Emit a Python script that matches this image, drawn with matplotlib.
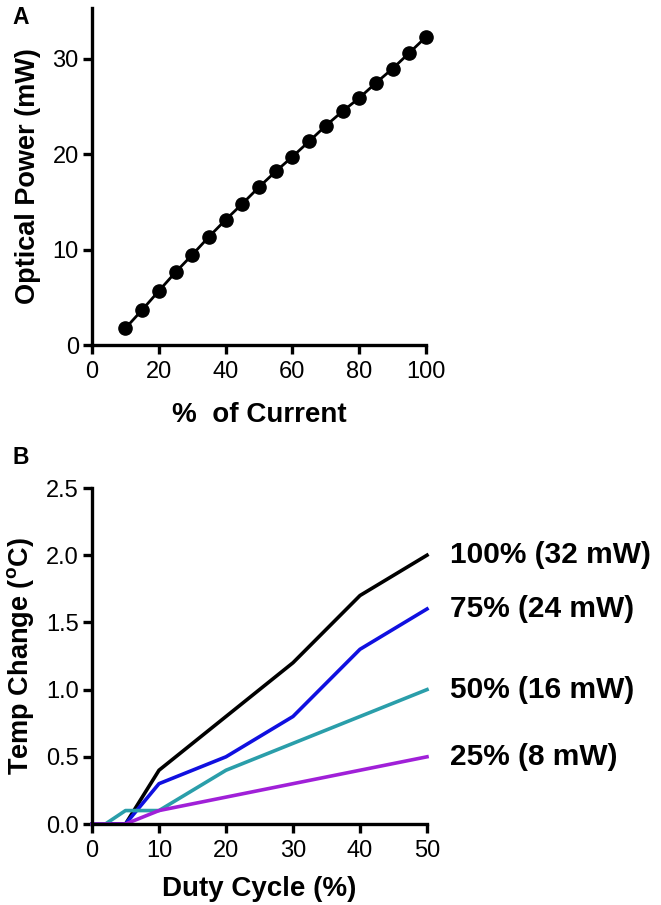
import matplotlib
matplotlib.use("Agg")
import matplotlib.pyplot as plt

plt.rcParams['font.family'] = ['Liberation Sans', 'DejaVu Sans']

# Panel A data
current_pct = [10, 15, 20, 25, 30, 35, 40, 45, 50, 55, 60, 65, 70, 75, 80, 85, 90, 95, 100]
optical_power = [1.75, 3.67, 5.66, 7.62, 9.44, 11.33, 13.11, 14.79, 16.54, 18.18,
                 19.72, 21.33, 22.97, 24.48, 25.87, 27.45, 28.95, 30.6, 32.27]

# Panel B data
duty_100 = [0, 5, 10, 20, 30, 40, 50]
temp_100 = [0, 0, 0.4, 0.8, 1.2, 1.7, 2.0]
duty_75 = [0, 5, 10, 20, 30, 40, 50]
temp_75 = [0, 0, 0.3, 0.5, 0.8, 1.3, 1.6]
duty_50 = [0, 2, 5, 10, 20, 30, 40, 50]
temp_50 = [0, 0, 0.1, 0.1, 0.4, 0.6, 0.8, 1.0]
duty_25 = [0, 5, 10, 20, 30, 40, 50]
temp_25 = [0, 0, 0.1, 0.2, 0.3, 0.4, 0.5]
series_labels = ['100% (32 mW)', '75% (24 mW)', '50% (16 mW)', '25% (8 mW)']
series_colors = ['#000000', '#1010e0', '#2a9eaa', '#a020d8']

W, H = 661, 905
fig = plt.figure(figsize=(W / 100, H / 100), dpi=100)


def style(ax):
    for s in ['top', 'right']:
        ax.spines[s].set_visible(False)
    for s in ['left', 'bottom']:
        ax.spines[s].set_linewidth(2.4)
    ax.tick_params(direction='out', length=6.5, width=2.4, labelsize=17)
    ax.tick_params(axis='x', pad=5)
    ax.tick_params(axis='y', pad=3)


axA = fig.add_axes([92 / W, 1 - 345 / H, (426 - 92) / W, (345 - 8) / H])
axA.plot(current_pct, optical_power, color='black', lw=2, marker='o', ms=9.5,
         clip_on=False)
axA.set_xlim(0, 100)
axA.set_ylim(0, 35.3)
axA.set_xticks([0, 20, 40, 60, 80, 100])
axA.set_yticks([0, 10, 20, 30])
style(axA)
axA.set_xlabel('%  of Current', fontsize=20, fontweight='bold')
axA.xaxis.set_label_coords(0.5, -(415 - 345) / (345 - 8), transform=axA.transAxes)
axA.xaxis.label.set_va('center')
axA.set_ylabel('Optical Power (mW)', fontsize=19.5, fontweight='bold')
axA.yaxis.set_label_coords(-(92 - 28) / (426 - 92), 0.5, transform=axA.transAxes)
axA.yaxis.label.set_va('center')

axB = fig.add_axes([92 / W, 1 - 824 / H, (427 - 92) / W, (824 - 488) / H])
series = [(duty_100, temp_100), (duty_75, temp_75), (duty_50, temp_50), (duty_25, temp_25)]
for (xs, ys), c, lab in zip(series, series_colors, series_labels):
    axB.plot(xs, ys, color=c, lw=2.6, clip_on=False)
    axB.annotate(lab, xy=(xs[-1], ys[-1]), xytext=(16.5, 0), textcoords='offset points',
                 fontsize=21.5, fontweight='bold', va='center', ha='left',
                 annotation_clip=False)
axB.set_xlim(0, 50)
axB.set_ylim(0, 2.5)
axB.set_xticks([0, 10, 20, 30, 40, 50])
axB.set_yticks([0.0, 0.5, 1.0, 1.5, 2.0, 2.5])
axB.set_yticklabels(['0.0', '0.5', '1.0', '1.5', '2.0', '2.5'])
style(axB)
axB.set_xlabel('Duty Cycle (%)', fontsize=20, fontweight='bold')
axB.xaxis.set_label_coords(0.5, -(889 - 824) / (824 - 488), transform=axB.transAxes)
axB.xaxis.label.set_va('center')
axB.set_ylabel('Temp Change ($^{\\mathregular{o}}$C)', fontsize=19.5, fontweight='bold')
axB.yaxis.set_label_coords(-(92 - 21) / (427 - 92), 0.5, transform=axB.transAxes)
axB.yaxis.label.set_va('center')

fig.text(12 / W, 1 - 17 / H, 'A', fontsize=16.5, fontweight='bold', va='center')
fig.text(12 / W, 1 - 457 / H, 'B', fontsize=16.5, fontweight='bold', va='center')

fig.savefig('out.png', dpi=100)
